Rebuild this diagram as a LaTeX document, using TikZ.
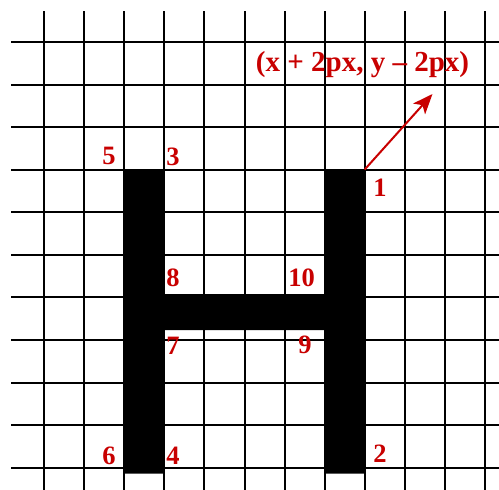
\documentclass[tikz,border=0pt]{standalone}
\usepackage{fontspec}
\setmainfont{Liberation Serif}
\usetikzlibrary{arrows.meta}
\definecolor{lab}{RGB}{200,0,0}
\begin{document}
\begin{tikzpicture}[x=1pt,y=-1pt,
  gridline/.style={line width=2pt, black},
  lbl/.style={text=lab, font=\bfseries\fontsize{26.5}{26.5}\selectfont, inner sep=0pt, anchor=center},
  arr/.style={draw=lab, line width=2pt, -{Stealth[length=20pt,width=16pt,inset=5pt]}}]
\useasboundingbox (0,0) rectangle (499,490);
\foreach \i in {0,...,11} \draw[gridline] ({44+40.1*\i},11) -- ({44+40.1*\i},490);
\foreach \j in {0,...,10} \draw[gridline] (11,{42+42.57*\j}) -- (499,{42+42.57*\j});
\fill[black] (124.5,169.5) -- (164.5,169.5) -- (164.5,294) -- (324.7,294) -- (324.7,169.5) -- (364.7,169.5) -- (364.7,473.5) -- (324.7,473.5) -- (324.7,330) -- (164.5,330) -- (164.5,473.5) -- (124.5,473.5) -- cycle;
\node[lbl] (l1) at (380,188) {1};
\node[lbl] (l2) at (380,454) {2};
\node[lbl] (l3) at (173,157) {3};
\node[lbl] (l4) at (173,456) {4};
\node[lbl] (l5) at (109,156) {5};
\node[lbl] (l6) at (109,456) {6};
\node[lbl] (l7) at (173,346) {7};
\node[lbl] (l8) at (173,278) {8};
\node[lbl] (l9) at (305,345) {9};
\node[lbl] (l10) at (301.5,278) {10};
\node[lbl, font=\bfseries\fontsize{29}{29}\selectfont] (coord) at (362.5,65) {(x + 2px, y – 2px)};
\coordinate (corner) at (364.7,169.5);
\coordinate (tip) at (432.5,94);
\draw[arr] (corner) -- (tip);
\end{tikzpicture}
\end{document}
